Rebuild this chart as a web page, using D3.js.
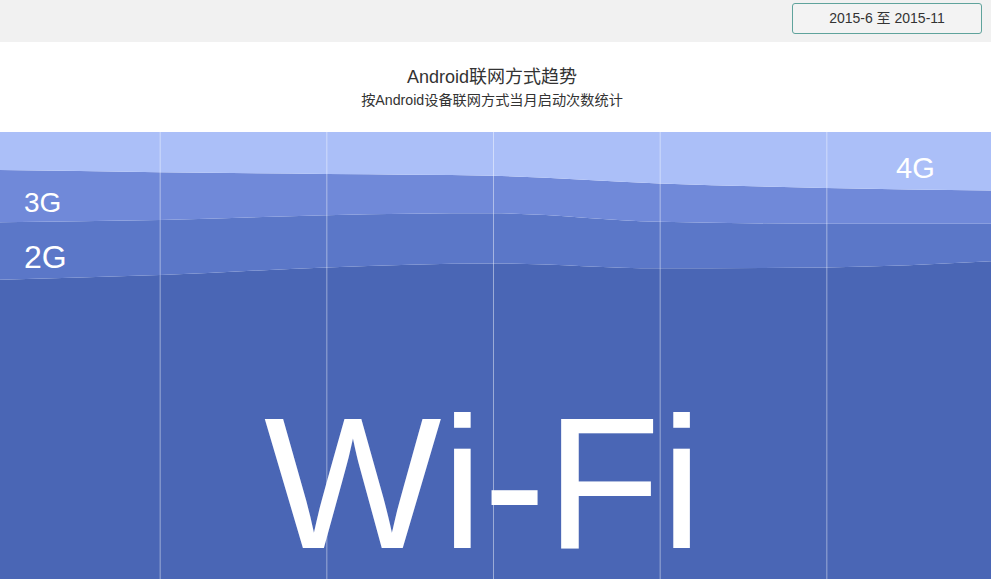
<html>
  <head>
    <title>Android联网方式趋势</title>
    <style type="text/css">
    body{
      margin: 0;
      font-family: "Liberation Sans", "Noto Sans CJK SC", sans-serif;
      background: white;
      overflow: hidden;
    }
    .topbar{
      height: 42px;
      background: #f1f1f1;
      position: relative;
    }
    .range_button{
      position: absolute;
      left: 792px;
      top: 3px;
      width: 188px;
      height: 29px;
      border: 1px solid #5fa39c;
      border-radius: 3px;
      background: #f3f3f3;
      font-size: 14px;
      color: #333;
      text-align: center;
      line-height: 29px;
    }
    .header{
      height: 90px;
      position: relative;
    }
    </style>
  </head>
  <body>
    <script src="https://d3js.org/d3.v7.min.js"></script>
    <div class="topbar"><div class="range_button">2015-6 至 2015-11</div></div>
    <div class="header"><svg id="head" width="991" height="90"></svg></div>
    <div id="graph_item"></div>
    <script>

// sample points (month boundaries, 2015-6 .. 2015-11)
var points = ["2015-06-01", "2015-07-01", "2015-08-01", "2015-09-01", "2015-10-01", "2015-11-01", "2015-12-01"];
// share of launches per connection type, %
var wifi = [66.9, 68.0, 69.7, 70.6, 69.5, 69.7, 71.1];
var g2   = [12.9, 12.3, 11.7, 11.2, 10.4,  9.8,  8.4];
var g3   = [11.7, 10.7,  9.2,  8.4,  8.6,  8.0,  7.4];
var g4   = [ 8.5,  9.0,  9.4,  9.8, 11.5, 12.5, 13.1];

var keys = ["wifi", "g2", "g3", "g4"];
var labels = {wifi: "Wi-Fi", g2: "2G", g3: "3G", g4: "4G"};

var data = points.map(function(p, i){
  return {point: p, wifi: wifi[i], g2: g2[i], g3: g3[i], g4: g4[i]};
});

// header text
var head = d3.select("#head");
head.append("text")
  .attr("x", 492).attr("y", 41)
  .attr("text-anchor", "middle")
  .style("font-size", "18px")
  .style("fill", "#333")
  .text("Android联网方式趋势");
head.append("text")
  .attr("x", 492).attr("y", 63)
  .attr("text-anchor", "middle")
  .style("font-size", "14.2px")
  .style("fill", "#333")
  .text("按Android设备联网方式当月启动次数统计");

var width = 991,
    height = 447;

var svg = d3.select("#graph_item")
  .append("svg")
    .attr("width", width)
    .attr("height", height)
    .style("display", "block");

var x = d3.scaleLinear()
  .domain([0, points.length - 1])
  .range([-7, 993]);

var y = d3.scaleLinear()
  .domain([0, 100])
  .range([height, 0]);

var color = d3.scaleOrdinal()
  .domain(keys)
  .range(["#4a66b5", "#5b77c8", "#7089d9", "#abbff8"]);

var stacked = d3.stack().keys(keys)(data);

var area = d3.area()
  .x(function(d, i){ return x(i); })
  .y0(function(d){ return y(d[0]); })
  .y1(function(d){ return y(d[1]); })
  .curve(d3.curveMonotoneX);

svg.selectAll(".layer")
  .data(stacked)
  .join("path")
    .attr("class", "layer")
    .attr("fill", function(d){ return color(d.key); })
    .attr("d", area);

// vertical grid lines at inner sample points
svg.append("g")
  .attr("transform", "translate(0," + height + ")")
  .call(d3.axisBottom(x).tickValues(d3.range(1, points.length - 1)).tickSize(-height).tickFormat(""))
  .call(function(g){ g.select(".domain").remove(); })
  .call(function(g){ g.selectAll(".tick line")
      .attr("stroke", "rgba(255,255,255,0.45)")
      .attr("stroke-width", 1); });

// layer labels
var labelStyle = [
  {key: "g4",   x: 896, y: 46,  size: 29, anchor: "start"},
  {key: "g3",   x: 24,  y: 80,  size: 28, anchor: "start"},
  {key: "g2",   x: 24,  y: 136, size: 32, anchor: "start"},
  {key: "wifi", x: 264, y: 416, size: 188, anchor: "start"}
];

svg.selectAll(".label")
  .data(labelStyle)
  .join("text")
    .attr("class", "label")
    .attr("x", function(d){ return d.x; })
    .attr("y", function(d){ return d.y; })
    .attr("text-anchor", function(d){ return d.anchor; })
    .style("font-size", function(d){ return d.size + "px"; })
    .style("fill", "white")
    .text(function(d){ return labels[d.key]; });

</script>
  </body>
</html>
